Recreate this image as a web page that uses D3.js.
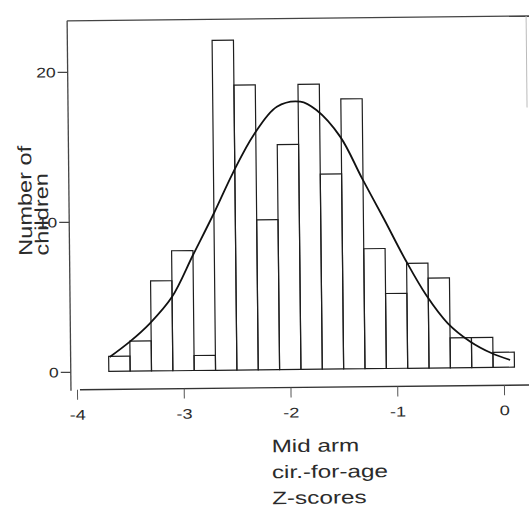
<!DOCTYPE html>
<html>
<head>
<meta charset="utf-8">
<script src="https://cdn.jsdelivr.net/npm/d3@7"></script>
<style>
  html, body { margin: 0; padding: 0; background: #fff; }
  svg { display: block; }
  text { font-family: "Liberation Sans", Arial, Helvetica, sans-serif; fill: #2b2b2b; }
</style>
</head>
<body>
<svg id="chart" width="529" height="514"></svg>
<script>
// ---- Data ----
// Histogram bins: lower edge of each 0.2-wide Z-score bin
const binLower = [-3.7, -3.5, -3.3, -3.1, -2.9, -2.7, -2.5, -2.3, -2.1, -1.9,
                  -1.7, -1.5, -1.3, -1.1, -0.9, -0.7, -0.5, -0.3, -0.1];
const binWidth = 0.2;
const counts   = [1, 2, 6, 8, 1, 22, 19, 10, 15, 19,
                  13, 18, 8, 5, 7, 6, 2, 2, 1];

// Fitted normal curve
const curveZ = [-3.69, -3.50, -3.31, -3.10, -2.90, -2.70, -2.52, -2.32, -2.10, -1.88,
                -1.73, -1.51, -1.31, -1.11, -0.91, -0.72, -0.52, -0.31, -0.11, 0.06];
const curveN = [0.96, 1.97, 3.18, 4.93, 7.70, 10.47, 13.12, 15.66, 17.53, 17.85,
                17.28, 15.49, 12.71, 10.0, 7.22, 4.87, 2.97, 1.73, 0.94, 0.48];

const xTicks = [-4, -3, -2, -1, 0];
const xTickLabels = ["-4", "-3", "-2", "-1", "0"];
const yTicks = [0, 10, 20];
const yTickLabels = ["0", "10", "20"];

const yTitle = ["Number of", "children"];
const xTitle = ["Mid arm", "cir.-for-age", "Z-scores"];

// ---- Layout ----
const svg = d3.select("#chart");
const g = svg.append("g").attr("transform", "rotate(-0.6, 290, 200)");

const x = d3.scaleLinear().domain([-4, 0]).range([75, 502]);
const y = d3.scaleLinear().domain([0, 20]).range([369.5, 69.5]);

const axisX = 69, axisY = 387.5, frameTop = 18.5, frameRight = 528;
const ink = "#1e1e1e";

// frame / axis lines
g.append("line").attr("x1", axisX).attr("x2", axisX).attr("y1", frameTop).attr("y2", axisY + 1)
  .attr("stroke", "#444").attr("stroke-width", 1.3);
g.append("line").attr("x1", axisX).attr("x2", 532).attr("y1", frameTop).attr("y2", frameTop)
  .attr("stroke", "#444").attr("stroke-width", 1.3);
g.append("line").attr("x1", frameRight).attr("x2", frameRight).attr("y1", frameTop).attr("y2", 110)
  .attr("stroke", "#bbb").attr("stroke-width", 1);
g.append("line").attr("x1", axisX + 9).attr("x2", 535).attr("y1", axisY).attr("y2", axisY)
  .attr("stroke", "#333").attr("stroke-width", 1.4);

// x axis ticks and labels
const xAxis = d3.axisBottom(x).tickValues(xTicks)
  .tickFormat((d, i) => xTickLabels[i]).tickSize(10).tickPadding(9);
const gx = g.append("g").attr("transform", `translate(0,${axisY})`).call(xAxis);
gx.select(".domain").remove();
gx.selectAll(".tick line").attr("stroke", "#555").attr("stroke-width", 1);
gx.selectAll(".tick text")
  .attr("font-size", 14).attr("fill", "#333")
  .attr("font-family", "Liberation Sans, Arial, sans-serif")
  .each(function () {
    const t = d3.select(this);
    const yy = +t.attr("y");
    t.attr("y", null).attr("dy", null)
     .attr("transform", `translate(0,${yy + 11}) scale(1.3,1)`);
  });

// y axis ticks and labels
const yAxis = d3.axisLeft(y).tickValues(yTicks)
  .tickFormat((d, i) => yTickLabels[i]).tickSize(10).tickPadding(2);
const gy = g.append("g").attr("transform", `translate(${axisX},0)`).call(yAxis);
gy.select(".domain").remove();
gy.selectAll(".tick line").attr("stroke", "#444").attr("stroke-width", 1.2);
gy.selectAll(".tick text")
  .attr("font-size", 14).attr("fill", "#333")
  .attr("font-family", "Liberation Sans, Arial, sans-serif")
  .each(function () {
    const t = d3.select(this);
    t.attr("x", 0).attr("dy", "0.35em")
     .attr("transform", `translate(-12,0) scale(1.25,1)`);
  });

// histogram bars
g.append("g").selectAll("rect")
  .data(binLower.map((lo, i) => ({ lo, n: counts[i] })))
  .join("rect")
  .attr("x", d => x(d.lo))
  .attr("width", d => x(d.lo + binWidth) - x(d.lo))
  .attr("y", d => y(d.n))
  .attr("height", d => y(0) - y(d.n))
  .attr("fill", "none")
  .attr("stroke", ink)
  .attr("stroke-width", 1.2);

// fitted curve
const line = d3.line().x(d => x(d[0])).y(d => y(d[1])).curve(d3.curveCatmullRom.alpha(0.5));
g.append("path")
  .datum(curveZ.map((z, i) => [z, curveN[i]]))
  .attr("d", line)
  .attr("fill", "none")
  .attr("stroke", "#111")
  .attr("stroke-width", 1.8);

// y title (rotated, two lines)
const yTitleX = [31.6, 48];
yTitle.forEach((s, i) => {
  g.append("text")
    .attr("transform", `translate(${yTitleX[i]},253) rotate(-90) scale(1.24,1)`)
    .attr("font-size", 19)
    .attr("text-anchor", "start")
    .text(s);
});

// x title (three lines)
const xTitleBase = [452, 478, 504];
xTitle.forEach((s, i) => {
  g.append("text")
    .attr("transform", `translate(269,${xTitleBase[i]}) scale(1.35,1)`)
    .attr("font-size", 18)
    .attr("text-anchor", "start")
    .text(s);
});
</script>
</body>
</html>
